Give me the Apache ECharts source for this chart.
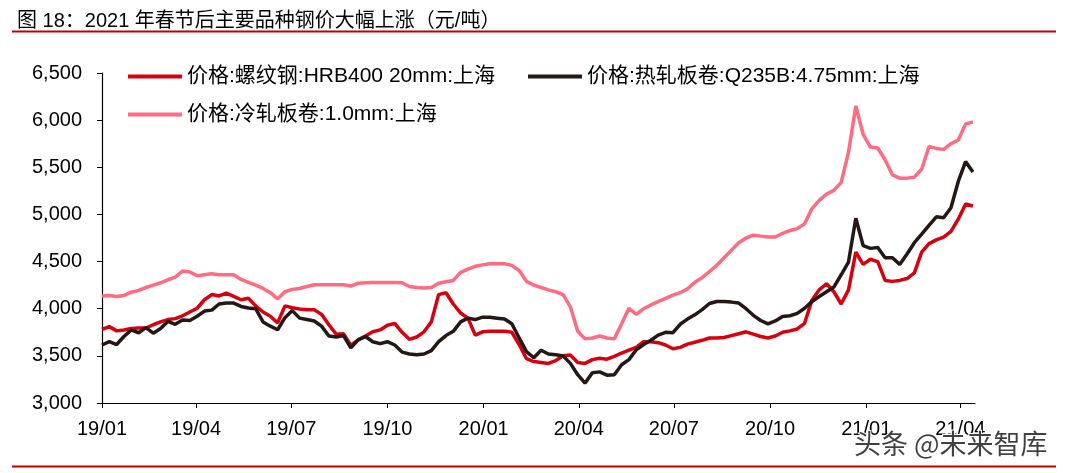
<!DOCTYPE html>
<html>
<head>
<meta charset="utf-8">
<script src="https://cdn.jsdelivr.net/npm/echarts@6/dist/echarts.min.js"></script>
<style>
html, body { margin: 0; padding: 0; background: #fff; }
#chart { width: 1068px; height: 473px; }
</style>
</head>
<body>
<div id="chart"></div>
<script>
// weekly samples starting 2019-01-01
var firstWeek = [2019, 0, 1]
var seriesNames = ['价格:螺纹钢:HRB400 20mm:上海', '价格:热轧板卷:Q235B:4.75mm:上海', '价格:冷轧板卷:1.0mm:上海']
var quarterTicks = ['2019-01-01', '2019-04-01', '2019-07-01', '2019-10-01', '2020-01-01', '2020-04-01', '2020-07-01', '2020-10-01', '2021-01-01', '2021-04-01']

var rebar = [
  3780, 3810, 3765, 3775, 3790, 3795, 3795, 3830, 3860, 3885,
  3895, 3925, 3965, 4005, 4095, 4150, 4135, 4165, 4130, 4095,
  4110, 4030, 3965, 3920, 3850, 4030, 4010, 3996, 3990, 3989,
  3940, 3830, 3730, 3735, 3610, 3670, 3710, 3755, 3775, 3825,
  3845, 3750, 3675, 3700, 3755, 3860, 4150, 4170, 4050, 3954,
  3900, 3720, 3755, 3760, 3760, 3760, 3750, 3620, 3470, 3440,
  3430, 3420, 3450, 3500, 3510, 3430, 3420, 3460, 3475, 3465,
  3495, 3530, 3560, 3590, 3650, 3650, 3640, 3615, 3575, 3590,
  3625, 3645, 3665, 3689, 3689, 3695, 3715, 3735, 3755, 3730,
  3705, 3690, 3710, 3750, 3765, 3785, 3845, 4090, 4200, 4265,
  4180, 4050, 4200, 4600, 4470, 4525, 4500, 4300, 4290, 4300,
  4320, 4380, 4600, 4690, 4730, 4760, 4820, 4950, 5110, 5090
]
var hotRolled = [
  3615, 3650, 3620, 3705, 3775, 3745, 3800, 3740, 3790, 3865,
  3835, 3880, 3875, 3920, 3975, 3985, 4050, 4060, 4060, 4024,
  4007, 4000, 3860, 3815, 3777, 3905, 3980, 3900, 3885, 3870,
  3815, 3710, 3700, 3715, 3585, 3670, 3705, 3650, 3630, 3650,
  3615, 3540, 3520, 3512, 3520, 3555, 3650, 3715, 3760, 3860,
  3900, 3885, 3910, 3910, 3900, 3890, 3840, 3690, 3545, 3480,
  3560, 3520, 3512, 3500, 3420, 3300, 3210, 3320, 3330, 3295,
  3300, 3406, 3460, 3565, 3620, 3665, 3720, 3750, 3745, 3835,
  3890, 3935, 3990, 4055, 4077, 4077, 4070, 4060, 4000, 3930,
  3875, 3840, 3870, 3918, 3925, 3950, 4005, 4075, 4130, 4180,
  4230, 4360, 4495, 4960, 4670, 4640, 4650, 4540, 4540, 4470,
  4580, 4700, 4790, 4885, 4975, 4965, 5070, 5350, 5560, 5450
]
var coldRolled = [
  4135, 4140, 4130, 4140, 4175, 4195, 4225, 4250, 4275, 4307,
  4335, 4400, 4390, 4350, 4360, 4370, 4360, 4360, 4360, 4310,
  4280, 4250, 4215, 4170, 4105, 4180, 4205, 4215, 4235, 4254,
  4254, 4254, 4254, 4254, 4240, 4270, 4275, 4278, 4278, 4278,
  4278, 4275, 4235, 4225, 4220, 4225, 4270, 4285, 4300, 4385,
  4420, 4450, 4465, 4477, 4477, 4477, 4460, 4405, 4290, 4250,
  4225, 4200, 4180, 4150, 4020, 3760, 3680, 3690, 3710, 3690,
  3680, 3840, 4005, 3940, 4000, 4040, 4075, 4110, 4145, 4170,
  4210, 4280, 4330, 4395, 4460, 4540, 4620, 4700, 4750, 4780,
  4770, 4760, 4760, 4800, 4830, 4850, 4900, 5060, 5150, 5215,
  5255, 5340, 5660, 6150, 5850, 5715, 5705, 5580, 5420, 5385,
  5385, 5395, 5480, 5720, 5700, 5690, 5750, 5790, 5960, 5980
]
var colorArr = ['#d7000f', '#231815', '#ff6b81']

var fontFamily = '"Liberation Sans", Arial, "Noto Sans CJK SC", sans-serif'

function toTime (s) {
  var p = s.split('-')
  return new Date(+p[0], +p[1] - 1, +p[2]).getTime()
}

function weekPairs (values) {
  var out = []
  for (var i = 0; i < values.length; i++) {
    var d = new Date(firstWeek[0], firstWeek[1], firstWeek[2] + 7 * i)
    out.push([d.getTime(), values[i]])
  }
  return out
}

function getBaseSeriesData (name, data, color) {
  return {
    name: name,
    type: 'line',
    data: weekPairs(data),
    symbol: 'none',
    lineStyle: { color: color, width: 3.5 },
    itemStyle: { color: color },
    animation: false
  }
}

function legendAt (name, left, top) {
  return {
    data: [name],
    left: left,
    top: top,
    padding: 0,
    icon: 'rect',
    itemWidth: 54,
    itemHeight: 4,
    selectedMode: false,
    textStyle: { fontSize: 21, color: '#000', fontFamily: fontFamily }
  }
}

var chart = echarts.init(document.getElementById('chart'), null, { renderer: 'canvas' })
var tickTimes = quarterTicks.map(toTime)

chart.setOption({
  backgroundColor: '#fff',
  title: {
    text: '图 18：2021 年春节后主要品种钢价大幅上涨（元/吨）',
    left: 12,
    top: 6,
    textStyle: { fontSize: 20, fontWeight: 'normal', color: '#000', fontFamily: fontFamily }
  },
  legend: [
    legendAt(seriesNames[0], 128, 66),
    legendAt(seriesNames[1], 528, 66),
    legendAt(seriesNames[2], 128, 104)
  ],
  grid: {
    left: 102,
    right: 93,
    top: 73,
    bottom: 70,
    containLabel: false,
    outerBoundsMode: 'none'
  },
  xAxis: {
    type: 'value',
    min: toTime('2019-01-01'),
    max: toTime('2021-04-15'),
    axisLine: { lineStyle: { color: '#000', width: 1.2 } },
    axisTick: { show: true, length: 5, customValues: tickTimes, lineStyle: { color: '#000' } },
    axisLabel: {
      customValues: tickTimes,
      margin: 16,
      fontSize: 20,
      color: '#000',
      fontFamily: fontFamily,
      formatter: function (v) {
        var d = new Date(v)
        var m = d.getMonth() + 1
        return String(d.getFullYear()).slice(2) + '/' + (m < 10 ? '0' + m : m)
      }
    },
    splitLine: { show: false }
  },
  yAxis: {
    type: 'value',
    min: 3000,
    max: 6500,
    interval: 500,
    axisLine: { show: true, lineStyle: { color: '#000', width: 1.2 } },
    axisTick: { show: true, length: 5, lineStyle: { color: '#000' } },
    axisLabel: {
      margin: 20,
      fontSize: 20,
      color: '#000',
      fontFamily: fontFamily,
      formatter: function (v) { return echarts.format.addCommas(v) }
    },
    splitLine: { show: false }
  },
  graphic: [
    { type: 'line', shape: { x1: 12, y1: 31.5, x2: 1056, y2: 31.5 }, style: { stroke: '#c00000', lineWidth: 2 } },
    { type: 'line', shape: { x1: 12, y1: 466.5, x2: 1056, y2: 466.5 }, style: { stroke: '#c00000', lineWidth: 2 } },
    {
      type: 'text',
      left: 853,
      top: 429,
      z: 100,
      style: {
        text: '头条 @未来智库',
        font: '27px "Noto Sans CJK SC", sans-serif',
        fill: 'rgba(30,30,30,0.85)',
        stroke: '#fff',
        lineWidth: 2
      }
    }
  ],
  series: [
    getBaseSeriesData(seriesNames[0], rebar, colorArr[0]),
    getBaseSeriesData(seriesNames[1], hotRolled, colorArr[1]),
    getBaseSeriesData(seriesNames[2], coldRolled, colorArr[2])
  ]
})
</script>
</body>
</html>
